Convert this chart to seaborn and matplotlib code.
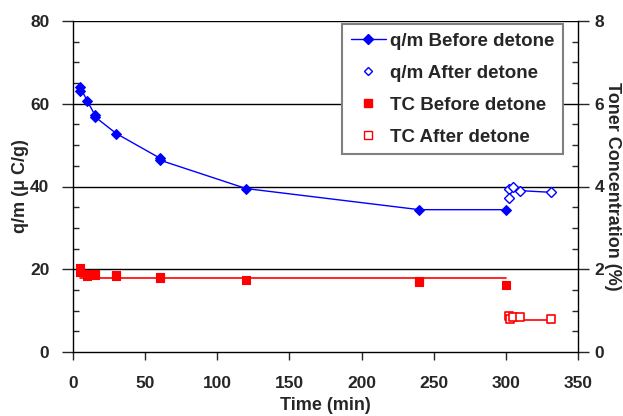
import numpy as np
import pandas as pd
import matplotlib
matplotlib.use("Agg")
import matplotlib.pyplot as plt
from matplotlib.lines import Line2D
from matplotlib.ticker import MultipleLocator
import seaborn as sns

# ---- data ----
qm_before_t = [5, 5, 10, 15, 15, 30, 60, 60, 120, 240, 300]
qm_before_v = [63.2, 64.0, 60.6, 57.4, 56.9, 52.8, 46.9, 46.4, 39.5, 34.4, 34.4]

qm_after_t = [302, 302, 305, 310, 331]
qm_after_v = [39.3, 37.2, 40.0, 39.0, 38.6]

tc_before_t = [5, 5, 10, 10, 15, 15, 30, 30, 60, 60, 120, 240, 240, 300]
tc_before_v = [2.02, 1.94, 1.84, 1.88, 1.86, 1.88, 1.87, 1.83, 1.82, 1.78, 1.75, 1.71, 1.69, 1.63]
tc_before_line_t = [5, 300]
tc_before_line_v = [1.80, 1.80]

tc_after_t = [302, 303, 305, 310, 331]
tc_after_v = [0.87, 0.80, 0.84, 0.84, 0.80]
tc_after_line_t = [302, 331]
tc_after_line_v = [0.77, 0.77]

labels = ["q/m Before detone", "q/m After detone", "TC Before detone", "TC After detone"]

BLUE = "#0000FF"
RED = "#FF0000"

sns.set_style("white")
plt.rcParams["font.family"] = ["Liberation Sans", "DejaVu Sans"]
plt.rcParams["font.weight"] = "bold"

fig = plt.figure(figsize=(6.23, 4.16), dpi=100)
ax = fig.add_axes([73/623, 1-352/416, 505/623, 331/416])
ax2 = ax.twinx()

df_qb = pd.DataFrame({"t": qm_before_t, "v": qm_before_v})
df_qa = pd.DataFrame({"t": qm_after_t, "v": qm_after_v})
df_tb = pd.DataFrame({"t": tc_before_t, "v": tc_before_v})
df_ta = pd.DataFrame({"t": tc_after_t, "v": tc_after_v})
df_tbl = pd.DataFrame({"t": tc_before_line_t, "v": tc_before_line_v})
df_tal = pd.DataFrame({"t": tc_after_line_t, "v": tc_after_line_v})

# gridlines
for g in [20, 40, 60, 80]:
    ax.axhline(g, color="black", lw=1, zorder=0.5)

sns.lineplot(data=df_qb, x="t", y="v", ax=ax, color=BLUE, lw=1, estimator=None, sort=False,
             marker="D", markersize=5.5, markeredgecolor=BLUE, markerfacecolor=BLUE, zorder=3)
sns.lineplot(data=df_qa, x="t", y="v", ax=ax, color=BLUE, lw=1, estimator=None, sort=False,
             marker="D", markersize=5.5, markeredgecolor=BLUE, markerfacecolor="white",
             markeredgewidth=1, zorder=3)

sns.lineplot(data=df_tbl, x="t", y="v", ax=ax2, color=RED, lw=1.2, estimator=None, sort=False, zorder=2)
sns.lineplot(data=df_tal, x="t", y="v", ax=ax2, color=RED, lw=1.2, estimator=None, sort=False, zorder=2)
sns.scatterplot(data=df_tb, x="t", y="v", ax=ax2, color=RED, marker="s", s=30,
                edgecolor=RED, linewidth=0.8, zorder=3)
sns.scatterplot(data=df_ta, x="t", y="v", ax=ax2, marker="s", s=30, facecolor="white",
                edgecolor=RED, linewidth=1.2, zorder=3)

ax.set_xlim(0, 350)
ax.set_ylim(0, 80)
ax2.set_ylim(0, 8)

ax.xaxis.set_major_locator(MultipleLocator(50))
ax.yaxis.set_major_locator(MultipleLocator(20))
ax.yaxis.set_minor_locator(MultipleLocator(5))
ax2.yaxis.set_major_locator(MultipleLocator(2))
ax2.yaxis.set_minor_locator(MultipleLocator(0.5))

tfs = 12.5
ax.tick_params(axis="x", which="major", direction="out", length=6, width=1, labelsize=tfs, pad=11, bottom=True)
ax.tick_params(axis="y", which="major", direction="out", length=8, width=1, labelsize=tfs, pad=9, left=True)
ax.tick_params(axis="y", which="minor", direction="in", length=4, width=1, left=True)
ax2.tick_params(axis="y", which="major", direction="out", length=8, width=1, labelsize=tfs, pad=4, right=True)
ax2.tick_params(axis="y", which="minor", direction="in", length=4, width=1, right=True)

for a in (ax, ax2):
    for lab in a.get_xticklabels() + a.get_yticklabels():
        lab.set_fontweight("bold")
    for s in a.spines.values():
        s.set_color("black")
        s.set_linewidth(1)
    a.spines["top"].set_visible(False)
ax.spines["right"].set_visible(False)
ax2.spines["left"].set_visible(False)
ax2.spines["bottom"].set_visible(False)

ax.set_xlabel("Time (min)", fontsize=13, fontweight="bold")
ax.set_ylabel("q/m (\u03bc C/g)", fontsize=13, fontweight="bold")
ax2.set_ylabel("Toner Concentration (%)", fontsize=13, fontweight="bold", rotation=270, va="center")
ax.xaxis.set_label_coords(0.5, -0.135)
ax.yaxis.set_label_coords(-0.088, 0.5)
ax2.yaxis.set_label_coords(1.069, 0.5)

handles = [
    Line2D([], [], color=BLUE, lw=1, marker="D", markersize=5.5, markerfacecolor=BLUE, markeredgecolor=BLUE),
    Line2D([], [], color=BLUE, lw=0, marker="D", markersize=4.5, markerfacecolor="white", markeredgecolor=BLUE),
    Line2D([], [], color=RED, lw=0, marker="s", markersize=5.5, markerfacecolor=RED, markeredgecolor=RED),
    Line2D([], [], color=RED, lw=0, marker="s", markersize=5.5, markerfacecolor="white", markeredgecolor=RED),
]
leg = ax2.legend(handles, labels, loc="upper right", bbox_to_anchor=(0.970, 0.991),
                 frameon=True, fancybox=False, framealpha=1, edgecolor="#808080",
                 prop={"weight": "bold", "size": 13.5}, labelspacing=0.8, handlelength=1.9,
                 handletextpad=0.2, borderpad=0.45, borderaxespad=0)
leg.get_frame().set_linewidth(1.5)
if ax.get_legend() is not None:
    ax.get_legend().remove()

fig.savefig("out.png", dpi=100)
